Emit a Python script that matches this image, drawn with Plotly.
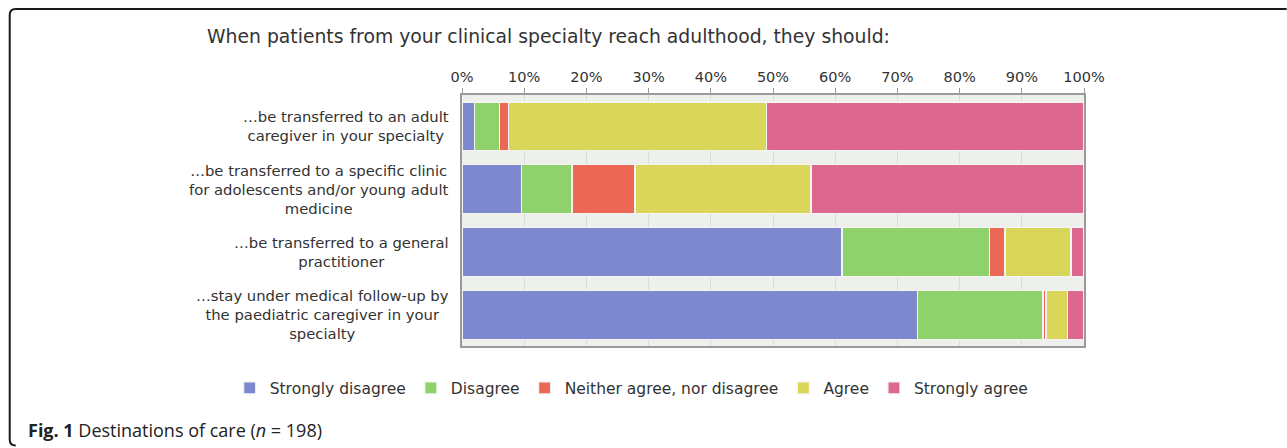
import plotly.graph_objects as go

categories = [
    "…be transferred to an adult<br>caregiver in your specialty",
    "…be transferred to a specific clinic<br>for adolescents and/or young adult<br>medicine",
    "…be transferred to a general<br>practitioner",
    "…stay under medical follow-up by<br>the paediatric caregiver in your<br>specialty",
]
series_names = ["Strongly disagree", "Disagree", "Neither agree, nor disagree", "Agree", "Strongly agree"]
strongly_disagree = [2.0, 9.6, 61.1, 73.2]
disagree = [4.0, 8.1, 23.7, 20.2]
neither = [1.5, 10.1, 2.5, 0.5]
agree = [41.4, 28.3, 10.6, 3.5]
strongly_agree = [51.1, 43.9, 2.1, 2.6]
colors = ["#7d88cf", "#8fd26c", "#ec6755", "#dad65a", "#dd678e"]
tick_vals = [0, 10, 20, 30, 40, 50, 60, 70, 80, 90, 100]
tick_text = [f"{v}%" for v in tick_vals]

values = [strongly_disagree, disagree, neither, agree, strongly_agree]

FONT = "DejaVu Sans, Verdana, sans-serif"

fig = go.Figure()
for name, vals, col in zip(series_names, values, colors):
    fig.add_trace(go.Bar(
        y=categories, x=vals, name=name, orientation="h",
        marker=dict(color=col, line=dict(color="#f4f4f0", width=1.2)),
        hoverinfo="x+name",
    ))

W, H = 1287, 448
L, R, T, B = 462.3, 1084.3, 95.0, 345.7

def px(x):
    return (x - L) / (R - L)

def py(y):
    return (B - y) / (B - T)

annotations = [
    dict(
        text="When patients from your clinical specialty reach adulthood, they should:",
        xref="paper", yref="paper", x=px(205), y=py(37),
        xanchor="left", yanchor="middle", showarrow=False,
        font=dict(size=18.8, color="#333333"),
    ),
    dict(
        text="<b>Fig. 1</b> Destinations of care (<i>n</i> = 198)",
        xref="paper", yref="paper", x=px(26), y=py(430),
        xanchor="left", yanchor="middle", showarrow=False,
        font=dict(family="Open Sans, Noto Sans, sans-serif", size=18, color="#222222"),
    ),
]
# category labels, centred line by line, placed on the category axis
for cat in categories:
    annotations.append(dict(
        text=cat, xref="paper", yref="y", x=0, y=cat,
        xanchor="right", yanchor="middle", xshift=-11, align="center",
        showarrow=False, font=dict(size=14.8, color="#333333"),
    ))

fig.update_layout(
    width=W, height=H,
    margin=dict(l=L, r=W - R, t=T, b=H - B, pad=0),
    paper_bgcolor="white",
    plot_bgcolor="#eef1eb",
    barmode="stack",
    bargap=0.22,
    font=dict(family=FONT, color="#333333", size=14),
    xaxis=dict(
        range=[0, 100], side="top", tickvals=tick_vals, ticktext=tick_text,
        showgrid=True, gridcolor="#d9dce2", gridwidth=1,
        showline=True, linecolor="#9a9a9a", linewidth=1.5, mirror=True,
        ticks="outside", ticklen=5, tickcolor="#9a9a9a",
        tickfont=dict(size=14.5, color="#333333"), zeroline=False, fixedrange=True,
    ),
    yaxis=dict(
        categoryorder="array", categoryarray=categories, autorange="reversed",
        showline=True, linecolor="#9a9a9a", linewidth=1.5, mirror=True,
        ticks="", showticklabels=False, fixedrange=True,
    ),
    showlegend=True,
    legend=dict(
        orientation="h", x=px(230), xanchor="left",
        y=py(388), yanchor="middle", traceorder="normal",
        font=dict(size=15.5, color="#333333"), bgcolor="rgba(0,0,0,0)",
        itemwidth=30,
    ),
    annotations=annotations,
)

# frame: top line + left line with rounded corners
rx = 6 / (R - L)
ry = 6 / (B - T)
xl, yt, yb, xr = px(10), py(9), py(445), px(1287)
path = (f"M {xr},{yt} L {xl + rx},{yt} Q {xl},{yt} {xl},{yt - ry} "
        f"L {xl},{yb + ry} Q {xl},{yb} {xl + rx},{yb}")
fig.add_shape(type="path", path=path, xref="paper", yref="paper",
              line=dict(color="#1a1a1a", width=2))

fig.write_html("out.html")
